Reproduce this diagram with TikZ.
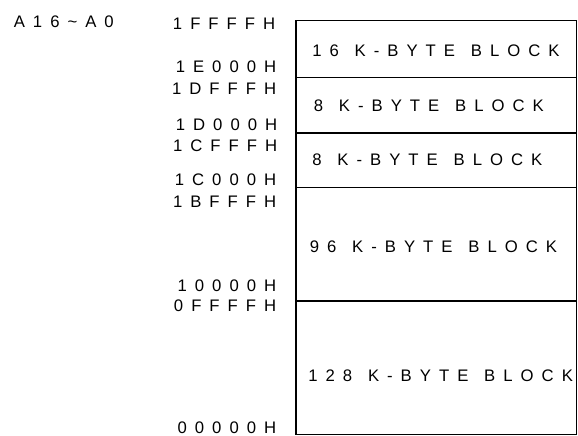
\documentclass[tikz,border=0pt]{standalone}
\usepackage{fontspec}
\newfontfamily\mapfont[LetterSpace=48,WordSpace=1.25]{Liberation Sans}

\tikzset{
    addr/.style={anchor=base east, inner sep=0pt},
    blk/.style={anchor=base west, inner sep=0pt},
}

\begin{document}
\begin{tikzpicture}[
    x=1pt, y=-1pt, % pixel units, y downwards
    font=\mapfont\fontsize{16.7}{20}\selectfont,
    line width=1.6pt
]
\useasboundingbox (0,0) rectangle (578,436);

% ========== memory block outline ==========
\coordinate (TL) at (296,20.5);
\coordinate (BR) at (576.5,434.5);
\draw (TL) rectangle (BR);
\foreach \y in {77.3,132.7,187.3,300.7}
    \draw (296,\y) -- (576.5,\y); % block boundaries

% ========== block names ==========
\node[blk] (b16)  at (311.5,56.7)  {16 K-BYTE BLOCK};
\node[blk] (b8a)  at (313,111.7)   {8 K-BYTE BLOCK};
\node[blk] (b8b)  at (311.5,165)   {8 K-BYTE BLOCK};
\node[blk] (b96)  at (309,252.7)   {96 K-BYTE BLOCK};
\node[blk] (b128) at (307.5,381)   {128 K-BYTE BLOCK};

% ========== address labels ==========
\node[anchor=base west, inner sep=0pt] (bus) at (13,28) {A16\textasciitilde A0};
\node[addr] (a1ffff) at (276,29.3)  {1FFFFH};
\node[addr] (a1e000) at (277,72.7)  {1E000H};
\node[addr] (a1dfff) at (277,94.3)  {1DFFFH};
\node[addr] (a1d000) at (278,130)   {1D000H};
\node[addr] (a1cfff) at (278,151.7) {1CFFFH};
\node[addr] (a1c000) at (277,185)   {1C000H};
\node[addr] (a1bfff) at (277,207.3) {1BFFFH};
\node[addr] (a10000) at (277,291)   {10000H};
\node[addr] (a0ffff) at (277,311.7) {0FFFFH};
\node[addr] (a00000) at (277,433.3) {00000H};

\end{tikzpicture}
\end{document}
